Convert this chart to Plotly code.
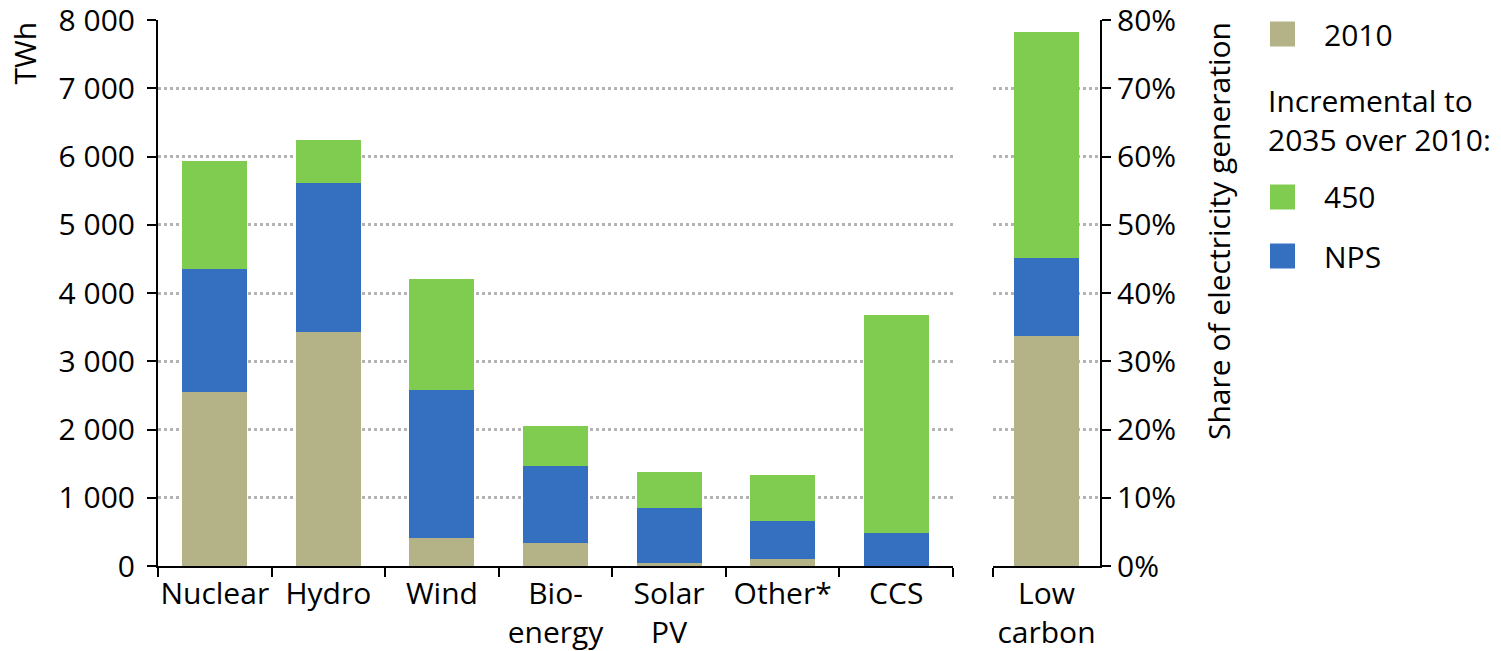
import plotly.graph_objects as go

# Technologies (left panel) and the aggregate (right panel)
techs = ["Nuclear", "Hydro", "Wind", "Bio-<br>energy", "Solar<br>PV", "Other*", "CCS"]
total_label = ["Low<br>carbon"]

# TWh, stacked: 2010 level, NPS increment to 2035, further 450 increment
gen_2010 = [2550, 3430, 415, 340, 40, 100, 0]
inc_nps = [1800, 2180, 2165, 1125, 810, 560, 485]
inc_450 = [1580, 630, 1625, 585, 525, 675, 3195]

# Share of electricity generation for low-carbon sources
share_2010 = [0.337]
share_nps = [0.114]
share_450 = [0.331]

TAN = "#b4b388"
BLUE = "#3570c0"
GREEN = "#7fcc50"
GRID = "#b4b4b4"
FONT = "Open Sans"
FS = 30

W, H = 1501, 651
M_TOP, M_BOT = 20, 85


def px_x(p):
    return p / W


def px_y(p):
    return (H - M_BOT - p) / (H - M_TOP - M_BOT)


fig = go.Figure()

series = [("2010", gen_2010, share_2010, TAN),
          ("NPS", inc_nps, share_nps, BLUE),
          ("450", inc_450, share_450, GREEN)]

for name, vals, share, col in series:
    fig.add_trace(go.Bar(x=techs, y=vals, name=name, marker_color=col,
                         marker_line_width=0, width=0.572,
                         xaxis="x", yaxis="y", showlegend=False))
    fig.add_trace(go.Bar(x=total_label, y=share, name=name, marker_color=col,
                         marker_line_width=0, width=0.607,
                         xaxis="x2", yaxis="y2", showlegend=False))

axis_common = dict(
    showline=True, linecolor="black", linewidth=2,
    ticks="outside", ticklen=9, tickwidth=2, tickcolor="black",
    tickfont=dict(family=FONT, size=FS, color="black"),
    zeroline=False, automargin=False, tickangle=0,
)

fig.update_layout(
    width=W, height=H,
    margin=dict(l=0, r=0, t=M_TOP, b=M_BOT, autoexpand=False),
    paper_bgcolor="white", plot_bgcolor="white",
    barmode="stack",
    separators=". ",
    font=dict(family=FONT, size=FS, color="black"),
    xaxis=dict(domain=[px_x(158), px_x(953)], anchor="y", type="category",
               tickson="boundaries", showgrid=False, **axis_common),
    xaxis2=dict(domain=[px_x(993), px_x(1100)], anchor="y2", type="category",
                tickson="boundaries", showgrid=False, range=[-0.5, 0.5],
                **axis_common),
    yaxis=dict(range=[0, 8000], tickvals=list(range(0, 8001, 1000)),
               tickformat=",d", anchor="x",
               showgrid=True, gridcolor=GRID, gridwidth=3, griddash="dot",
               ticklabelstandoff=6, **axis_common),
    yaxis2=dict(range=[0, 0.8], tickvals=[i / 10 for i in range(9)],
                tickformat=".0%", anchor="x2",
                side="right", showgrid=True, gridcolor=GRID, gridwidth=3,
                griddash="dot", **axis_common),
)

annotations = [
    dict(text="TWh", x=px_x(24), y=1, xref="paper", yref="paper",
         xanchor="center", yanchor="top", textangle=-90, showarrow=False,
         font=dict(family=FONT, size=FS)),
    dict(text="Share of electricity generation", x=px_x(1218), y=1,
         xref="paper", yref="paper", xanchor="center", yanchor="top",
         textangle=-90, showarrow=False, font=dict(family=FONT, size=FS)),
]

# Legend drawn as swatches with labels
legend_items = [("2010", TAN, 34), ("450", GREEN, 197), ("NPS", BLUE, 256)]
shapes = []
for label, col, cy in legend_items:
    shapes.append(dict(type="rect", xref="paper", yref="paper",
                       x0=px_x(1270), x1=px_x(1295),
                       y0=px_y(cy + 12.5), y1=px_y(cy - 12.5),
                       fillcolor=col, line_width=0))
    annotations.append(dict(text=label, x=px_x(1322), y=px_y(cy),
                            xref="paper", yref="paper", xanchor="left",
                            yanchor="middle", showarrow=False,
                            font=dict(family=FONT, size=FS)))
annotations.append(dict(text="Incremental to<br>2035 over 2010:",
                        x=px_x(1266), y=px_y(120), xref="paper", yref="paper",
                        xanchor="left", yanchor="middle", align="left",
                        showarrow=False, font=dict(family=FONT, size=FS)))

fig.update_layout(annotations=annotations, shapes=shapes)

fig.write_html("out.html")
